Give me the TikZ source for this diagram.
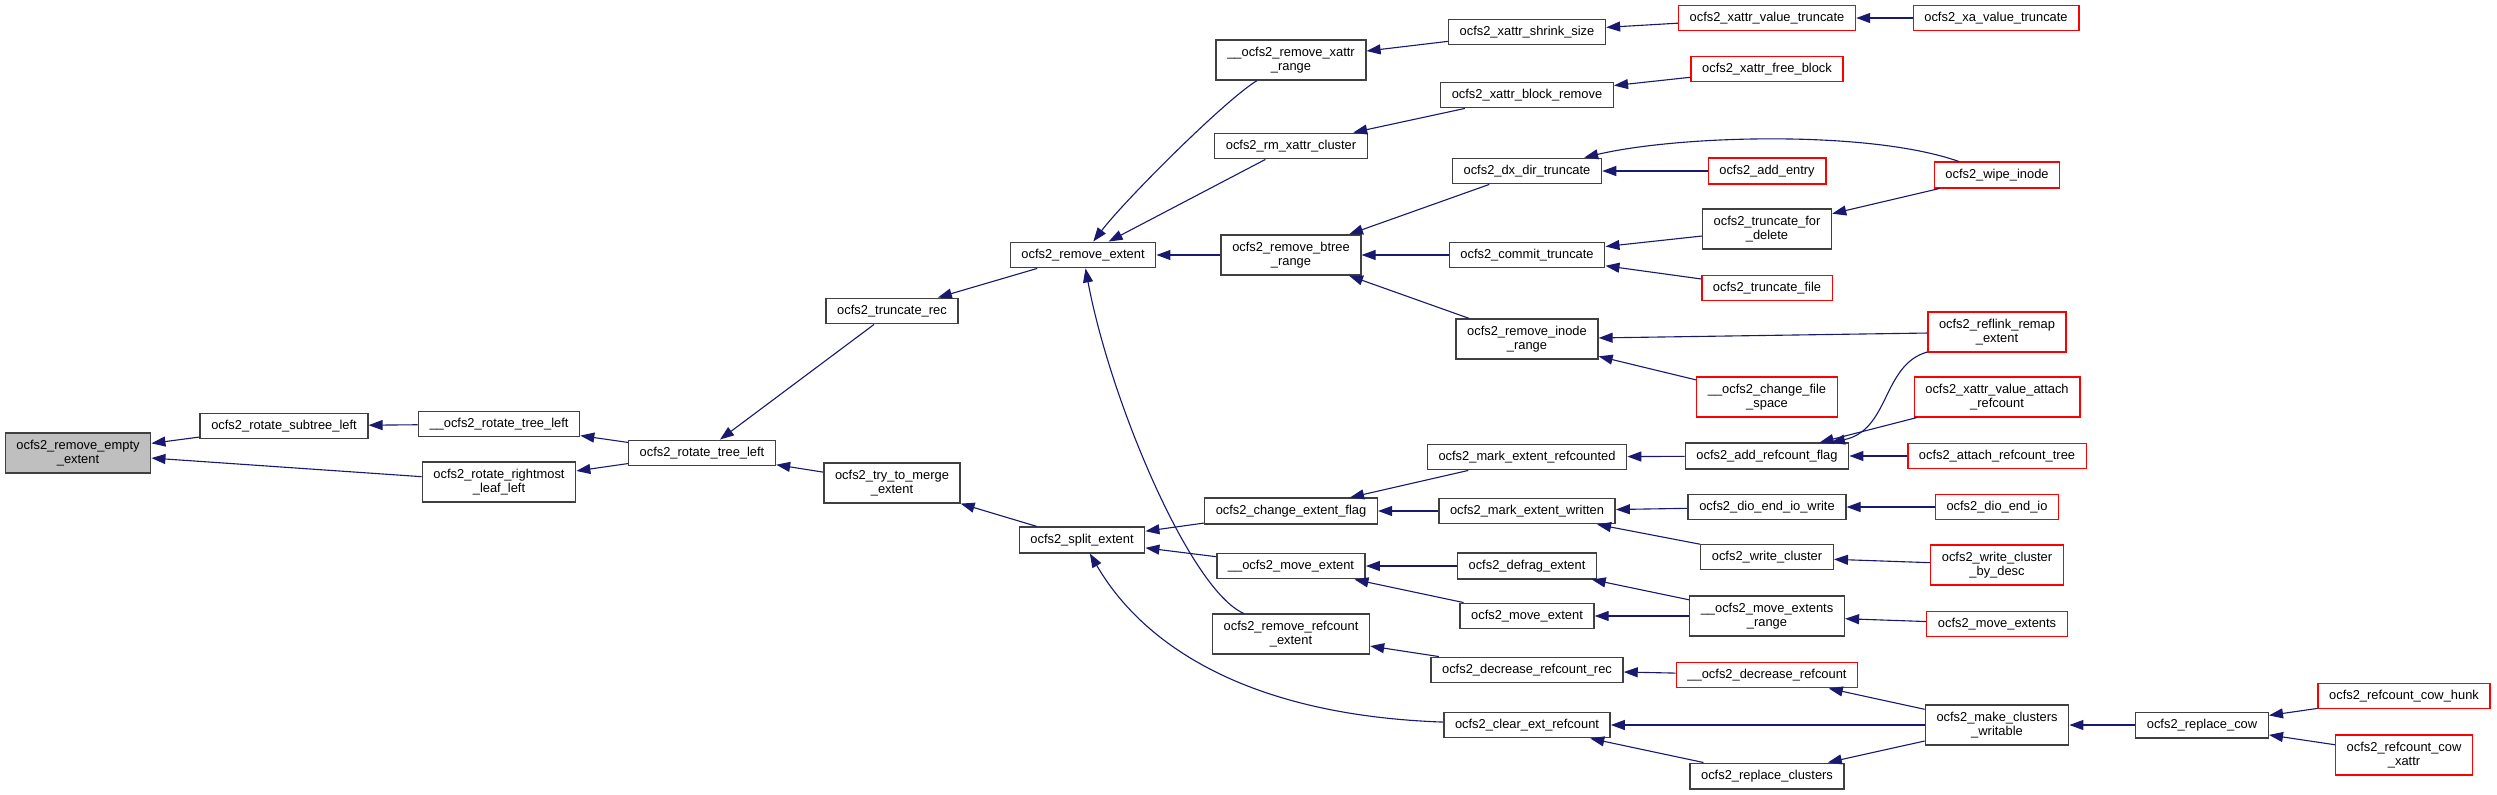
\documentclass[tikz,border=0pt]{standalone}
\usepackage{fontspec}
\setmainfont{Liberation Sans}
\usetikzlibrary{arrows.meta}

\definecolor{callblue}{HTML}{191970}
\definecolor{rootgrey}{HTML}{BFBFBF}

\tikzset{
  fn/.style={draw=black!75, line width=1.2pt, fill=white, align=center,
    inner xsep=9.5pt, inner ysep=5.8pt, font=\fontsize{11}{12.2}\selectfont},
  trunc/.style={fn, draw=red},
  root/.style={fn, fill=rootgrey},
  call/.style={<-, draw=callblue, line width=0.95pt},
}

\begin{document}
\begin{tikzpicture}[x=0.03cm, y=-0.03cm, >={Triangle[length=0.42cm,width=0.3cm]}]
\useasboundingbox (0,0) rectangle (2497,795);

% root and the rotate chain
\node[root] (rmempty) at (78,453) {ocfs2\_remove\_empty\\\_extent};
\node[fn] (rotsub) at (284,426) {ocfs2\_rotate\_subtree\_left};
\node[fn] (urottree) at (499,424) {\_\_ocfs2\_rotate\_tree\_left};
\node[fn] (rotright) at (499,482) {ocfs2\_rotate\_rightmost\\\_leaf\_left};
\node[fn] (rottree) at (702,453) {ocfs2\_rotate\_tree\_left};
\node[fn] (truncrec) at (892,311) {ocfs2\_truncate\_rec};
\node[fn] (trymerge) at (892,483) {ocfs2\_try\_to\_merge\\\_extent};
\node[fn] (rmext) at (1083,255) {ocfs2\_remove\_extent};
\node[fn] (splitext) at (1082,540) {ocfs2\_split\_extent};

% callers of remove_extent and split_extent
\node[fn] (urmxattr) at (1291,60) {\_\_ocfs2\_remove\_xattr\\\_range};
\node[fn] (rmxcluster) at (1291,146) {ocfs2\_rm\_xattr\_cluster};
\node[fn] (rmbtree) at (1291,255) {ocfs2\_remove\_btree\\\_range};
\node[fn] (chgflag) at (1291,511) {ocfs2\_change\_extent\_flag};
\node[fn] (umovext) at (1291,566) {\_\_ocfs2\_move\_extent};
\node[fn] (rmrefext) at (1291,634) {ocfs2\_remove\_refcount\\\_extent};

% next column
\node[fn] (shrink) at (1527,32) {ocfs2\_xattr\_shrink\_size};
\node[fn] (blockrm) at (1527,95) {ocfs2\_xattr\_block\_remove};
\node[fn] (dxtrunc) at (1527,171) {ocfs2\_dx\_dir\_truncate};
\node[fn] (commit) at (1527,255) {ocfs2\_commit\_truncate};
\node[fn] (rminode) at (1527,339) {ocfs2\_remove\_inode\\\_range};
\node[fn] (markref) at (1527,457) {ocfs2\_mark\_extent\_refcounted};
\node[fn] (markwr) at (1527,511) {ocfs2\_mark\_extent\_written};
\node[fn] (defrag) at (1527,566) {ocfs2\_defrag\_extent};
\node[fn] (movext) at (1527,616) {ocfs2\_move\_extent};
\node[fn] (decrec) at (1527,670) {ocfs2\_decrease\_refcount\_rec};
\node[fn] (clearref) at (1527,725) {ocfs2\_clear\_ext\_refcount};

% next column
\node[trunc] (xvtrunc) at (1767,18) {ocfs2\_xattr\_value\_truncate};
\node[trunc] (freeblk) at (1767,69) {ocfs2\_xattr\_free\_block};
\node[trunc] (addentry) at (1767,171) {ocfs2\_add\_entry};
\node[fn] (truncdel) at (1767,229) {ocfs2\_truncate\_for\\\_delete};
\node[trunc] (truncfile) at (1767,288) {ocfs2\_truncate\_file};
\node[trunc] (uchgspace) at (1767,397) {\_\_ocfs2\_change\_file\\\_space};
\node[fn] (addflag) at (1767,456) {ocfs2\_add\_refcount\_flag};
\node[fn] (dioiowr) at (1767,507) {ocfs2\_dio\_end\_io\_write};
\node[fn] (wrcluster) at (1767,557) {ocfs2\_write\_cluster};
\node[fn] (umovrange) at (1767,616) {\_\_ocfs2\_move\_extents\\\_range};
\node[trunc] (udecref) at (1767,675) {\_\_ocfs2\_decrease\_refcount};
\node[fn] (replclust) at (1767,776) {ocfs2\_replace\_clusters};

% outer columns
\node[trunc] (xatrunc) at (1996,18) {ocfs2\_xa\_value\_truncate};
\node[trunc] (wipe) at (1997,175) {ocfs2\_wipe\_inode};
\node[trunc] (reflink) at (1997,332) {ocfs2\_reflink\_remap\\\_extent};
\node[trunc] (attachxv) at (1997,397) {ocfs2\_xattr\_value\_attach\\\_refcount};
\node[trunc] (attachtree) at (1997,456) {ocfs2\_attach\_refcount\_tree};
\node[trunc] (dioio) at (1997,507) {ocfs2\_dio\_end\_io};
\node[trunc] (wrdesc) at (1997,565) {ocfs2\_write\_cluster\\\_by\_desc};
\node[trunc] (moveexts) at (1997,624) {ocfs2\_move\_extents};
\node[fn] (mkwritable) at (1997,725) {ocfs2\_make\_clusters\\\_writable};
\node[fn] (replcow) at (2202,725) {ocfs2\_replace\_cow};
\node[trunc] (cowhunk) at (2404,696) {ocfs2\_refcount\_cow\_hunk};
\node[trunc] (cowxattr) at (2404,755) {ocfs2\_refcount\_cow\\\_xattr};

% calls, head at the callee
\draw[call] (rmempty) -- (rotsub);
\draw[call] (rmempty) -- (rotright);
\draw[call] (rotsub) -- (urottree);
\draw[call] (urottree) -- (rottree);
\draw[call] (rotright) -- (rottree);
\draw[call] (rottree) -- (truncrec);
\draw[call] (rottree) -- (trymerge);
\draw[call] (truncrec) -- (rmext);
\draw[call] (trymerge) -- (splitext);
\draw[call] (rmext) .. controls (1125,200) and (1225,100) .. (urmxattr);
\draw[call] (rmext) -- (rmxcluster);
\draw[call] (rmext) -- (rmbtree);
\draw[call] (rmext) .. controls (1110,400) and (1190,590) .. (rmrefext);
\draw[call] (splitext) -- (chgflag);
\draw[call] (splitext) -- (umovext);
\draw[call] (splitext) .. controls (1140,640) and (1240,715) .. (clearref);
\draw[call] (urmxattr) -- (shrink);
\draw[call] (rmxcluster) -- (blockrm);
\draw[call] (rmbtree) -- (dxtrunc);
\draw[call] (rmbtree) -- (commit);
\draw[call] (rmbtree) -- (rminode);
\draw[call] (shrink) -- (xvtrunc);
\draw[call] (xvtrunc) -- (xatrunc);
\draw[call] (blockrm) -- (freeblk);
\draw[call] (dxtrunc) -- (addentry);
\draw[call] (dxtrunc) .. controls (1680,135) and (1870,130) .. (wipe);
\draw[call] (commit) -- (truncdel);
\draw[call] (commit) -- (truncfile);
\draw[call] (truncdel) -- (wipe);
\draw[call] (rminode) -- (reflink);
\draw[call] (rminode) -- (uchgspace);
\draw[call] (chgflag) -- (markref);
\draw[call] (chgflag) -- (markwr);
\draw[call] (markref) -- (addflag);
\draw[call] (addflag) .. controls (1890,430) and (1882,365) .. (reflink);
\draw[call] (addflag) -- (attachxv);
\draw[call] (addflag) -- (attachtree);
\draw[call] (markwr) -- (dioiowr);
\draw[call] (markwr) -- (wrcluster);
\draw[call] (dioiowr) -- (dioio);
\draw[call] (wrcluster) -- (wrdesc);
\draw[call] (umovext) -- (defrag);
\draw[call] (umovext) -- (movext);
\draw[call] (defrag) -- (umovrange);
\draw[call] (movext) -- (umovrange);
\draw[call] (umovrange) -- (moveexts);
\draw[call] (rmrefext) -- (decrec);
\draw[call] (decrec) -- (udecref);
\draw[call] (udecref) -- (mkwritable);
\draw[call] (clearref) -- (mkwritable);
\draw[call] (clearref) -- (replclust);
\draw[call] (replclust) -- (mkwritable);
\draw[call] (mkwritable) -- (replcow);
\draw[call] (replcow) -- (cowhunk);
\draw[call] (replcow) -- (cowxattr);

\end{tikzpicture}
\end{document}
